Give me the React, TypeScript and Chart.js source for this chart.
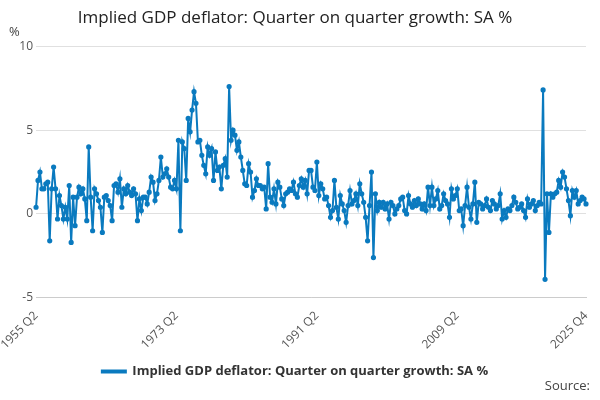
import React, { useEffect, useRef } from "react";
import { Chart, registerables } from "chart.js";
Chart.register(...registerables);

const values: number[] = [
  0.4, 2.0, 2.5,
  1.5, 1.5, 1.8, 1.9,
  -1.6, 1.5, 2.8, 1.5,
  -0.3, 1.1, 0.5, -0.3,
  0.4, -0.3, 1.7, -1.7,
  1.0, -0.7, 1.0, 1.6,
  1.2, 1.5, 0.9, -0.4,
  4.0, 1.0, -1.0, 1.5,
  1.2, 0.8, 0.4, -1.1,
  1.0, 1.1, 0.8, 0.5,
  -0.4, 1.7, 1.8, 1.3,
  2.1, 0.4, 1.5, 1.2,
  1.7, 1.3, 1.1, 1.5,
  1.2, -0.4, 0.9, 0.2,
  1.0, 1.0, 0.6, 1.3,
  2.2, 1.9, 0.8, 1.2,
  2.0, 3.4, 2.2, 2.4,
  2.7, 2.2, 1.6, 1.5,
  2.0, 1.5, 4.4, -1.0,
  4.3, 3.9, 2.0, 5.7,
  4.9, 6.2, 7.3, 6.6,
  4.3, 4.4, 3.5, 2.9,
  2.4, 4.0, 3.5, 3.9,
  2.0, 3.7, 2.6, 2.8,
  1.5, 2.9, 3.3, 2.2,
  7.6, 4.4, 5.0, 4.7,
  3.8, 4.3, 3.4, 2.6,
  1.8, 1.7, 3.0, 2.5,
  1.0, 1.4, 2.1, 1.7,
  1.7, 1.5, 1.6, 0.3,
  3.0, 1.0, 0.7, 1.5,
  0.6, 1.9, 1.6, 0.9,
  0.5, 1.2, 1.3, 1.5,
  1.4, 1.9, 1.2, 1.0,
  1.7, 2.1, 1.6, 2.0,
  1.2, 2.6, 2.6, 1.6,
  1.4, 3.1, 1.1, 1.8,
  1.5, 0.9, 1.0, 0.5,
  -0.2, 0.2, 2.0, 0.4,
  -0.3, 1.1, 0.6, 0.2,
  -0.5, 0.5, 1.4, 0.6,
  0.8, 1.2, 0.5, 1.8,
  1.2, 0.7, -0.2, -1.6,
  0.5, 2.5, -2.6, 1.2,
  0.2, 0.7, 0.4, 0.7,
  0.3, 0.6, -0.3, 0.7,
  0.5, 0.0, 0.3, 0.5,
  0.9, 1.0, 0.2, 0.0,
  1.1, 0.6, 0.4, 0.8,
  0.5, 0.9, 0.6, 0.3,
  0.6, 0.2, 1.6, 0.5,
  1.6, 0.5, 0.9, 1.4,
  0.3, 0.5, 1.2, 0.8,
  0.6, -0.2, 1.5, 0.9,
  1.1, 1.5, 0.2, 0.3,
  -0.7, 0.5, 1.6, 0.4,
  -0.3, 0.6, 1.9, -0.5,
  0.7, 0.6, 0.3, 0.5,
  0.9, 0.4, 0.2, 0.8,
  0.6, 0.3, 0.5, 1.2,
  -0.3, 0.2, -0.2, 0.3,
  0.2, 0.5, 1.0, 0.7,
  0.3, 0.4, 0.6, 0.2,
  -0.2, 0.9, 0.4, 0.6,
  0.8, 0.2, 0.5, 0.7,
  0.6, 7.4, -3.9, 1.2,
  -1.1, 1.2, 1.0, 1.2,
  1.3, 2.0, 1.6, 2.5,
  2.2, 1.5, 0.8, -0.1,
  1.4, 1.0, 1.4, 0.6,
  0.8, 1.0, 0.9, 0.6,
];

const startYear = 1955;
const startQuarter = 2;
const categories: string[] = values.map((_, i) => {
  const q = startQuarter - 1 + i;
  return `${startYear + Math.floor(q / 4)} Q${(q % 4) + 1}`;
});
const shownTicks = ["1955 Q2", "1973 Q2", "1991 Q2", "2009 Q2", "2025 Q4"];
const seriesName = "Implied GDP deflator: Quarter on quarter growth: SA %";
const color = "#0a7abf";

export default function App() {
  const ref = useRef<HTMLCanvasElement>(null);
  useEffect(() => {
    document.body.style.margin = "0";
    const chart = new Chart(ref.current!, {
      type: "line",
      data: {
        labels: categories,
        datasets: [{
          label: seriesName,
          data: values,
          borderColor: color,
          backgroundColor: color,
          borderWidth: 2,
          pointRadius: 1.6,
          pointHoverRadius: 2,
          tension: 0,
        }],
      },
      options: {
        animation: false,
        responsive: false,
        layout: { padding: { left: 4, right: 14, top: 0, bottom: 12 } },
        plugins: {
          title: {
            display: true,
            text: seriesName,
            color: "#222",
            font: { family: "Open Sans", size: 17, weight: "normal" },
            padding: { top: 8, bottom: 18 },
          },
          legend: {
            position: "bottom",
            labels: {
              usePointStyle: false,
              boxWidth: 24,
              boxHeight: 2,
              color: "#333",
              font: { family: "Open Sans", size: 13, weight: "bold" },
            },
          },
          tooltip: { enabled: false },
        },
        scales: {
          x: {
            grid: { display: false, drawTicks: true },
            border: { color: "#ccc" },
            ticks: {
              autoSkip: false,
              maxRotation: 45,
              minRotation: 45,
              color: "#555",
              font: { family: "Open Sans", size: 12 },
              callback: (_v, i) => (shownTicks.includes(categories[i]) ? categories[i] : null),
            },
          },
          y: {
            min: -5,
            max: 10,
            ticks: { stepSize: 5, color: "#555", font: { family: "Open Sans", size: 12 } },
            grid: { color: "#e0e0e0", drawTicks: false },
            border: { display: false },
          },
        },
      },
    });
    return () => chart.destroy();
  }, []);
  return (
    <div style={{ position: "relative", width: 600, height: 400, fontFamily: "Open Sans" }}>
      <canvas ref={ref} width={600} height={400} />
      <div style={{ position: "absolute", left: 9, top: 22, fontSize: 13, color: "#444" }}>%</div>
      <div style={{ position: "absolute", right: 10, bottom: 6, fontSize: 13, color: "#444" }}>Source:</div>
    </div>
  );
}
